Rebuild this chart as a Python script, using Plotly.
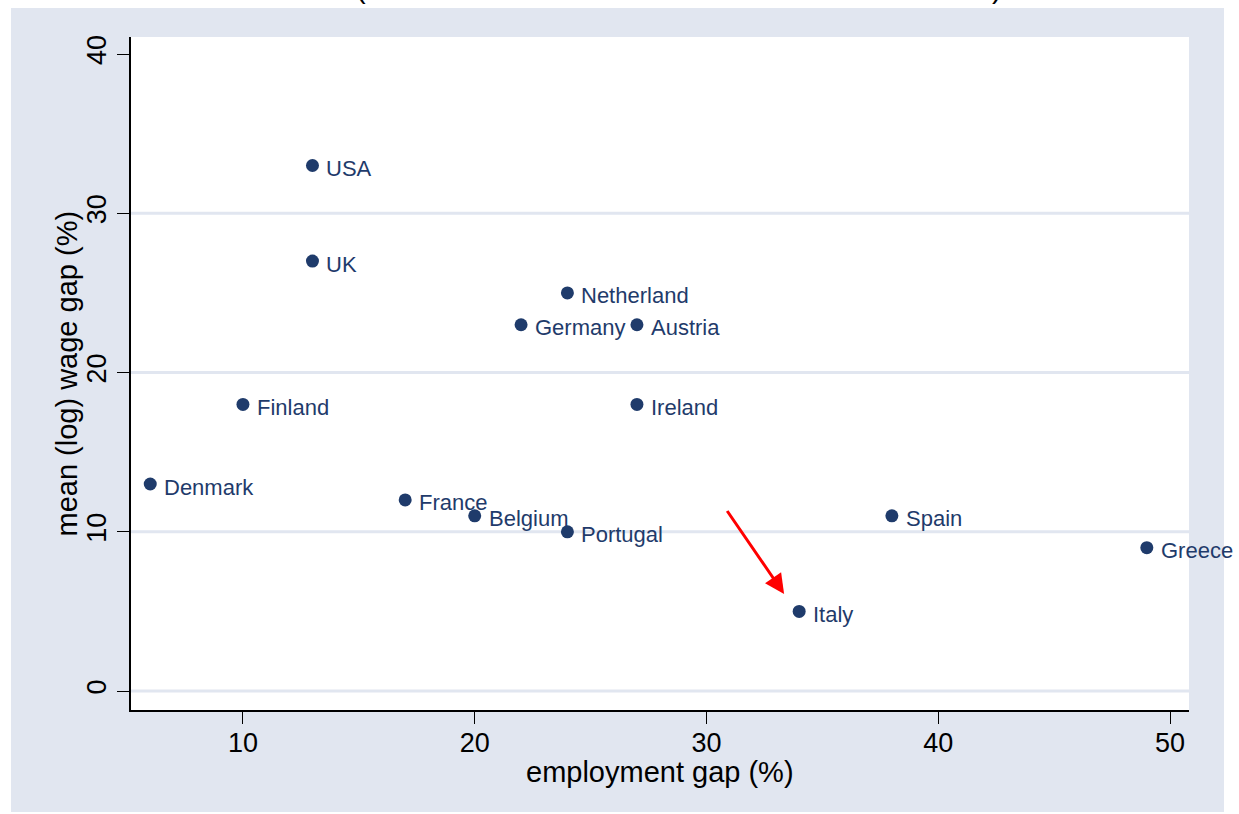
import plotly.graph_objects as go

# ---- data ----
countries = ["USA", "UK", "Netherland", "Germany", "Austria", "Finland", "Ireland",
             "Denmark", "France", "Belgium", "Portugal", "Spain", "Greece", "Italy"]
employment_gap = [13, 13, 24, 22, 27, 10, 27, 6, 17, 20, 24, 38, 49, 34]
wage_gap = [33, 27, 25, 23, 23, 18, 18, 13, 12, 11, 10, 11, 9, 5]
x_ticks = [10, 20, 30, 40, 50]
y_ticks = [0, 10, 20, 30, 40]
grid_vals = [0, 10, 20, 30]
arrow_start = (30.85, 11.4)
arrow_end = (33.35, 6.1)

# ---- geometry (pixels) ----
W, H = 1239, 814
L, R, T, B = 131, 50, 37, 104
pw, ph = W - L - R, H - T - B
def px(x):
    return (x - L) / pw
def py(y):
    return (H - B - y) / ph

NAVY = "#1F3B6B"
BG = "#E1E6F0"
FONT = "Liberation Sans, Arial, sans-serif"

fig = go.Figure()
fig.add_trace(go.Scatter(
    x=employment_gap, y=wage_gap, mode="markers",
    marker=dict(size=13, color=NAVY),
    cliponaxis=False, hoverinfo="skip", showlegend=False,
))

shapes = []
for g in grid_vals:
    shapes.append(dict(type="line", xref="paper", yref="y", x0=0, x1=1, y0=g, y1=g,
                       line=dict(color=BG, width=3), layer="below"))
# white page margins around grey graph region
white = dict(color="white", width=0)
shapes += [
    dict(type="rect", xref="paper", yref="paper", x0=px(0), x1=px(11), y0=py(0), y1=py(H),
         fillcolor="white", line=white, layer="below"),
    dict(type="rect", xref="paper", yref="paper", x0=px(1224), x1=px(W), y0=py(0), y1=py(H),
         fillcolor="white", line=white, layer="below"),
    dict(type="rect", xref="paper", yref="paper", x0=px(0), x1=px(W), y0=py(0), y1=py(8),
         fillcolor="white", line=white, layer="below"),
    dict(type="rect", xref="paper", yref="paper", x0=px(0), x1=px(W), y0=py(812), y1=py(H),
         fillcolor="white", line=white, layer="below"),
]

annotations = []
for c, xv, yv in zip(countries, employment_gap, wage_gap):
    annotations.append(dict(x=xv, y=yv, xref="x", yref="y", text=c, showarrow=False,
                            xanchor="left", yanchor="middle", xshift=12, yshift=-3,
                            font=dict(family=FONT, size=22, color=NAVY)))

annotations += [
    dict(x=arrow_end[0], y=arrow_end[1], ax=arrow_start[0], ay=arrow_start[1],
         xref="x", yref="y", axref="x", ayref="y", text="", showarrow=True,
         arrowhead=2, arrowsize=1.3, arrowwidth=3, arrowcolor="#FF0000"),
    dict(x=0.5, y=py(772), xref="paper", yref="paper", text="employment gap (%)",
         showarrow=False, font=dict(family=FONT, size=29, color="black"),
         xanchor="center", yanchor="middle"),
    dict(x=px(66), y=0.5, xref="paper", yref="paper", text="mean (log) wage gap (%)",
         showarrow=False, textangle=-90, font=dict(family=FONT, size=29, color="black"),
         xanchor="center", yanchor="middle"),
    dict(x=px(361), y=py(6), xref="paper", yref="paper", text="(",
         showarrow=False, font=dict(family=FONT, size=29, color="black"),
         xanchor="center", yanchor="bottom"),
    dict(x=px(997), y=py(6), xref="paper", yref="paper", text=")",
         showarrow=False, font=dict(family=FONT, size=29, color="black"),
         xanchor="center", yanchor="bottom"),
]

fig.update_layout(
    width=W, height=H,
    margin=dict(l=L, r=R, t=T, b=B, pad=0),
    paper_bgcolor=BG, plot_bgcolor="white",
    shapes=shapes, annotations=annotations,
    font=dict(family=FONT, color="black"),
    xaxis=dict(range=[5.17, 50.82], tickvals=x_ticks, showgrid=False, zeroline=False,
               showline=True, linecolor="black", linewidth=1.5, ticks="outside",
               ticklen=12, tickcolor="black", ticklabelstandoff=-4,
               tickfont=dict(family=FONT, size=27, color="black")),
    yaxis=dict(range=[-1.19, 41.07], tickvals=y_ticks, showgrid=False, zeroline=False,
               showline=True, linecolor="black", linewidth=1.5, ticks="outside",
               ticklen=12, tickcolor="black", tickangle=-90,
               tickfont=dict(family=FONT, size=27, color="black")),
)

fig.write_html("out.html", config={"displayModeBar": False},
               post_script="document.body.style.margin='0';document.body.style.overflow='hidden';")
